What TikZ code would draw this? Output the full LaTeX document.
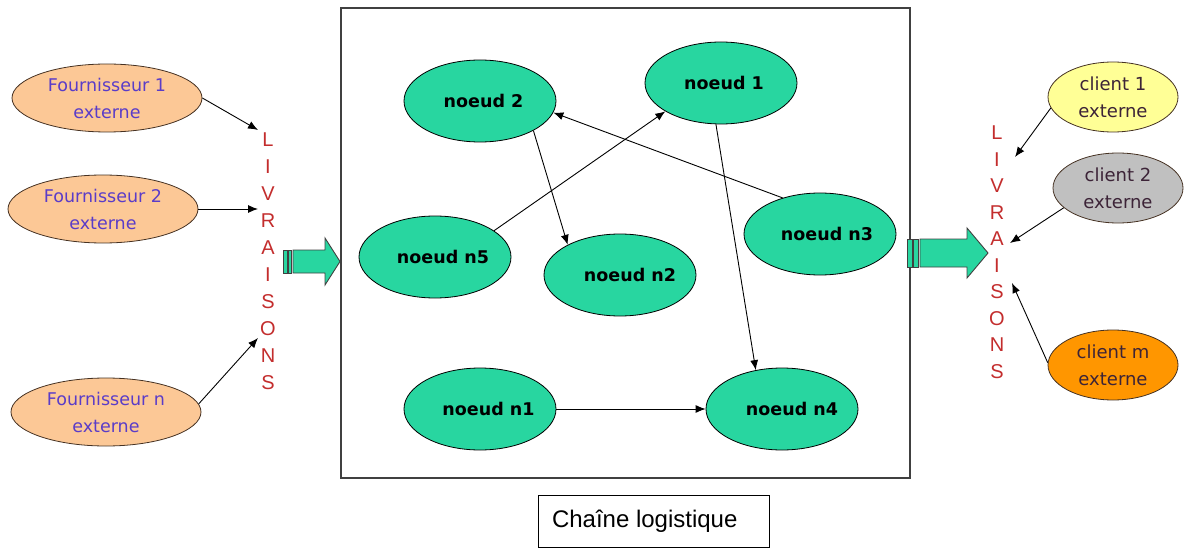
\documentclass[tikz,border=0pt]{standalone}
\usepackage{fontspec}
\setmainfont{DejaVu Sans}
\newfontfamily\libsans{Liberation Sans}
\usetikzlibrary{shapes.geometric,arrows.meta}
\definecolor{nodegreen}{RGB}{40,214,160}
\definecolor{peach}{RGB}{252,200,150}
\definecolor{fourntext}{RGB}{90,60,200}
\definecolor{clienttext}{RGB}{60,35,55}
\definecolor{extborder}{RGB}{70,50,35}
\definecolor{livred}{RGB}{195,45,45}
\definecolor{clientyellow}{RGB}{255,255,150}
\definecolor{clientgray}{RGB}{192,192,192}
\definecolor{clientorange}{RGB}{255,150,0}
\newcommand{\shifted}[2]{\makebox[0pt]{\hspace*{#1}#2}}
\tikzset{
  inner/.style={ellipse, draw=black, line width=0.8pt, fill=nodegreen,
    minimum width=152pt, minimum height=82pt, inner sep=0pt,
    font=\fontsize{17.5}{20}\selectfont\bfseries},
  fourn/.style={ellipse, draw=extborder, line width=0.8pt, fill=peach,
    minimum width=190pt, minimum height=68pt, inner sep=0pt, align=center,
    text=fourntext, font=\fontsize{17.5}{27}\selectfont},
  client/.style={ellipse, draw=extborder, line width=0.8pt,
    minimum width=130pt, minimum height=70pt, inner sep=0pt, align=center,
    text=clienttext, font=\fontsize{18}{27}\selectfont},
  conn/.style={-{Latex[length=10pt,width=8pt]}, line width=0.9pt},
  letter/.style={text=livred, font=\libsans\fontsize{20}{20}\selectfont, inner sep=0pt},
  blockarrow/.style={fill=nodegreen, draw=black!75, line width=0.9pt, line join=miter},
  frame/.style={draw=black!75, line width=1.2pt}
}
\begin{document}
\begin{tikzpicture}[x=1pt,y=-1pt]
\useasboundingbox (0,0) rectangle (1188,548);

% main box
\node[frame, minimum width=569pt, minimum height=470pt, inner sep=0pt] (mainbox) at (625.5,243) {};

% inner nodes
\node[inner] (n1) at (721,83) {\shifted{6pt}{noeud 1}};
\node[inner] (n2) at (480,101) {\shifted{7pt}{noeud 2}};
\node[inner] (nn5) at (435,257) {\shifted{16pt}{noeud n5}};
\node[inner] (nn2) at (620,275) {\shifted{20pt}{noeud n2}};
\node[inner] (nn3) at (820,234) {\shifted{14pt}{noeud n3}};
\node[inner] (nn1) at (480,409) {\shifted{17pt}{noeud n1}};
\node[inner] (nn4) at (782,409) {\shifted{20pt}{noeud n4}};

\draw[conn] (nn5.24) -- (n1.207);
\draw[conn] (nn3.136) -- (n2.-9);
\draw[conn] (n2.-29) -- (nn2.150);
\draw[conn] (n1.263) -- (nn4.124);
\draw[conn] (nn1.east) -- (nn4.west);

% suppliers
\node[fourn] (f1) at (107,98) {Fournisseur 1\\externe};
\node[fourn] (f2) at (103,209) {Fournisseur 2\\externe};
\node[fourn] (fn) at (106,412) {Fournisseur n\\externe};

% clients
\node[client, fill=clientyellow] (c1) at (1113,97) {client 1\\externe};
\node[client, fill=clientgray] (c2) at (1118,188) {client 2\\externe};
\node[client, fill=clientorange] (cm) at (1113,365) {client m\\externe};

% LIVRAISONS letters
\foreach \l [count=\i] in {L,I,V,R,A,I,S,O,N,S}
  \node[letter] (livl\i) at (268,{113+27*\i}) {\l};
\foreach \l [count=\i] in {L,I,V,R,A,I,S,O,N,S}
  \node[letter] (livr\i) at (997,{106.5+26.5*\i}) {\l};

% supplier arrows
\coordinate (inA) at (258,130);
\coordinate (inB) at (258,209);
\coordinate (inC) at (258,338);
\draw[conn] (f1.east) -- (inA);
\draw[conn] (f2.east) -- (inB);
\draw[conn] (fn.5) -- (inC);

% client arrows
\coordinate (outA) at (1015,157);
\coordinate (outB) at (1010,243);
\coordinate (outC) at (1012,283);
\draw[conn] (c1.190) -- (outA);
\draw[conn] (c2.200) -- (outB);
\draw[conn] (cm.178) -- (outC);

% block arrows
\draw[blockarrow] (283,250) rectangle (287,273);
\draw[blockarrow] (288.5,250) rectangle (291.5,273);
\draw[blockarrow] (293,250) -- (325,250) -- (325,238) -- (340,261.5) -- (325,285) -- (325,273) -- (293,273) -- cycle;

\draw[blockarrow] (907,239) rectangle (912,267);
\draw[blockarrow] (913.5,239) rectangle (918.5,267);
\draw[blockarrow] (920,239) -- (967,239) -- (967,228) -- (988,253) -- (967,278) -- (967,267) -- (920,267) -- cycle;

% caption
\node[draw=black, line width=0.9pt, minimum width=231pt, minimum height=52pt, inner sep=0pt,
  font=\libsans\fontsize{24}{27}\selectfont] (caption) at (653.5,521)
  {\makebox[231pt][l]{\hspace*{14pt}Chaîne logistique}};
\end{tikzpicture}
\end{document}
